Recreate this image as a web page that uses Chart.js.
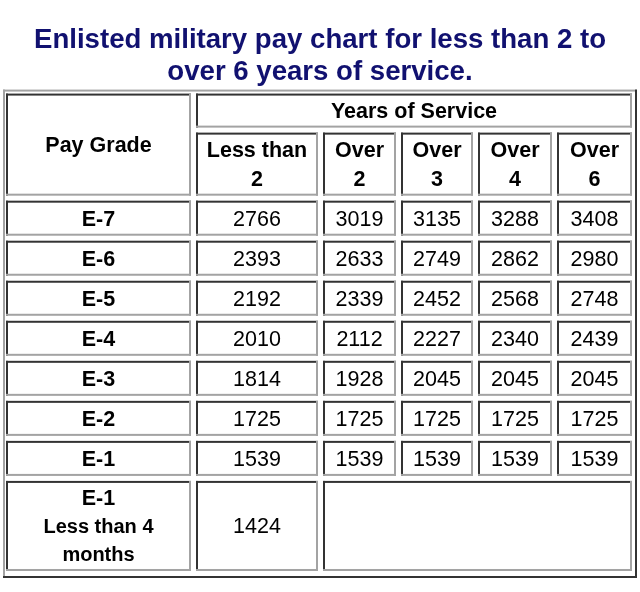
<!DOCTYPE html>
<html>
<head>
<meta charset="utf-8">
<title>Enlisted military pay chart</title>
<script src="https://cdn.jsdelivr.net/npm/chart.js@4.4.1/dist/chart.umd.min.js"></script>
<style>
    html, body { margin: 0; padding: 0; background: #fff; }
    #wrap { width: 640px; height: 592px; }
</style>
</head>
<body>
<div id="wrap"><canvas id="pay-chart" width="640" height="592"></canvas></div>
<script>
const titleLines = ["Enlisted military pay chart for less than 2 to", "over 6 years of service."];
const gradeHeader = "Pay Grade";
const serviceHeader = "Years of Service";
const serviceLabels = [["Less than", "2"], ["Over", "2"], ["Over", "3"], ["Over", "4"], ["Over", "6"]];
const payGrades = ["E-7", "E-6", "E-5", "E-4", "E-3", "E-2", "E-1"];

const payE7 = [2766, 3019, 3135, 3288, 3408];
const payE6 = [2393, 2633, 2749, 2862, 2980];
const payE5 = [2192, 2339, 2452, 2568, 2748];
const payE4 = [2010, 2112, 2227, 2340, 2439];
const payE3 = [1814, 1928, 2045, 2045, 2045];
const payE2 = [1725, 1725, 1725, 1725, 1725];
const payE1 = [1539, 1539, 1539, 1539, 1539];

const recruitLabel = ["E-1", "Less than 4", "months"];
const recruitPay = [1424];

const payRows = [payE7, payE6, payE5, payE4, payE3, payE2, payE1];

// table layout (scale units)
const colWidths = [185, 122, 73, 72, 74, 75];
const rowHeights = [34, 63, 35, 35, 35, 35, 35, 35, 35, 90];
const spacing = 5;
const startX = 3;
const startY = 4;
const tableWidth = 634;
const tableHeight = 488;

const fontFamily = "'Liberation Sans', Arial, Helvetica, sans-serif";
const titleColor = "#111170";
const darkEdge = "#333333";
const lightEdge = "#a3a3a3";

function edges(sizes, start) {
    const out = [];
    let pos = start;
    sizes.forEach(s => {
        out.push([pos, pos + s]);
        pos += s + spacing;
    });
    return out;
}

const colEdges = edges(colWidths, startX);
const rowEdges = edges(rowHeights, startY);

const tablePlugin = {
    id: "payTable",
    afterDraw(chart) {
        const ctx = chart.ctx;
        const xs = chart.scales.x;
        const ys = chart.scales.y;
        const px = v => xs.getPixelForValue(v);
        const py = v => ys.getPixelForValue(v);

        function box(x0, y0, x1, y1, tl, br, w) {
            ctx.fillStyle = "#ffffff";
            ctx.fillRect(x0, y0, x1 - x0, y1 - y0);
            ctx.fillStyle = tl;
            ctx.fillRect(x0, y0, x1 - x0, w);
            ctx.fillRect(x0, y0, w, y1 - y0);
            ctx.fillStyle = br;
            ctx.fillRect(x0, y1 - w, x1 - x0, w);
            ctx.fillRect(x1 - w, y0, w, y1 - y0);
        }

        function cell(c0, c1, r0, r1, lines, font, lineH) {
            const x0 = px(colEdges[c0][0]);
            const x1 = px(colEdges[c1][1]);
            const y0 = py(rowEdges[r0][0]);
            const y1 = py(rowEdges[r1][1]);
            box(x0, y0, x1, y1, darkEdge, lightEdge, 2);
            if (!lines) return;
            ctx.fillStyle = "#000000";
            ctx.textAlign = "center";
            ctx.textBaseline = "middle";
            const cx = (x0 + x1) / 2;
            const cy = (y0 + y1) / 2 + 1.5;
            lines.forEach((line, i) => {
                ctx.font = Array.isArray(font) ? font[i] : font;
                ctx.fillText(line, cx, cy + (i - (lines.length - 1) / 2) * lineH);
            });
        }

        ctx.save();
        box(px(0), py(0), px(tableWidth), py(tableHeight), lightEdge, darkEdge, 2);

        const bold = "bold 21.5px " + fontFamily;
        const plain = "21.5px " + fontFamily;
        const small = "bold 20px " + fontFamily;

        cell(0, 0, 0, 1, [gradeHeader], bold, 29);
        cell(1, 5, 0, 0, [serviceHeader], bold, 29);
        serviceLabels.forEach((lab, i) => cell(i + 1, i + 1, 1, 1, lab, bold, 29));

        payRows.forEach((vals, r) => {
            cell(0, 0, r + 2, r + 2, [payGrades[r]], bold, 29);
            vals.forEach((v, c) => cell(c + 1, c + 1, r + 2, r + 2, [String(v)], plain, 29));
        });

        const last = payRows.length + 2;
        cell(0, 0, last, last, recruitLabel, [bold, small, small], 28);
        cell(1, 1, last, last, recruitPay.map(String), plain, 28);
        cell(2, 5, last, last, null);
        ctx.restore();
    }
};

new Chart(document.getElementById("pay-chart"), {
    type: "scatter",
    data: { datasets: [{ data: [], pointRadius: 0 }] },
    options: {
        responsive: false,
        animation: false,
        events: [],
        layout: { padding: { left: 3, right: 3, top: 0, bottom: 14 } },
        plugins: {
            legend: { display: false },
            tooltip: { enabled: false },
            title: {
                display: true,
                text: titleLines,
                color: titleColor,
                font: { family: fontFamily, size: 27.6, weight: "bold", lineHeight: 1.17 },
                padding: { top: 24, bottom: 1 }
            }
        },
        scales: {
            x: { type: "linear", display: false, min: 0, max: tableWidth },
            y: { type: "linear", display: false, min: 0, max: tableHeight, reverse: true }
        }
    },
    plugins: [tablePlugin]
});
</script>
</body>
</html>
